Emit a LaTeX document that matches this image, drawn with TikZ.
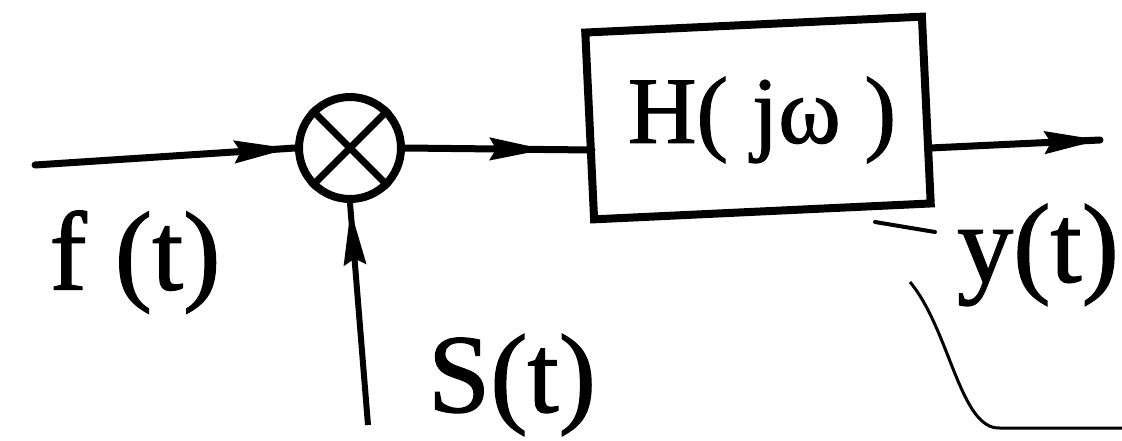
\documentclass[tikz,border=0pt]{standalone}
\usepackage{fontspec}
\setmainfont{Liberation Serif}
\newfontfamily\lblfont[FakeBold=1.2]{Liberation Serif}
\usetikzlibrary{arrows.meta,decorations.markings}
\begin{document}
\begin{tikzpicture}[x=1pt,y=-1pt,
  wire/.style={line width=7pt,line cap=round},
  midarrow/.style={postaction={decorate},decoration={markings,
     mark=at position #1 with {\arrow{Stealth[length=55pt,width=22pt,inset=6pt]}}}},
  lbl/.style={font=\lblfont\fontsize{112}{120}\selectfont,inner sep=0pt},
  every node/.style={inner sep=0pt}]
\useasboundingbox (0,0) rectangle (1122,440);
\node[draw,line width=8pt,circle,minimum size=102pt] (mult) at (350,148) {};
\draw[line width=7pt] (mult.45) -- (mult.225) (mult.135) -- (mult.315);
\node[draw,line width=8pt,minimum width=337pt,minimum height=187pt,rotate=2.7] (H) at (758,118) {};
\node[lbl,font=\lblfont\fontsize{95}{100}\selectfont] (Ht) at (762,120) {H( jω )};
\coordinate (in) at (35,165);
\coordinate (out) at (1100,140);
\coordinate (sin) at (368,425);
\coordinate (hin) at (592,150);
\coordinate (hout) at (930,148);
\draw[wire,midarrow=0.98] (in) -- (mult.west);
\draw[wire,midarrow=0.75] (mult.east) -- (hin);
\draw[wire,midarrow=1] (hout) -- (out);
\draw[line width=6pt,midarrow=0.97] (sin) -- (mult.south);
\node[lbl] (f) at (135,262) {f (t)};
\node[lbl] (s) at (512,385) {S(t)};
\node[lbl] (y) at (1038,255) {y(t)};
\coordinate (c1) at (875,222);
\coordinate (c2) at (935,232);
\coordinate (c3) at (910,282);
\coordinate (c4) at (1000,428);
\coordinate (c5) at (1122,428);
\draw[line width=4pt,line cap=round] (c1) -- (c2);
\draw[line width=3pt] (c3) .. controls (950,330) and (960,430) .. (c4) -- (c5);
\end{tikzpicture}
\end{document}
